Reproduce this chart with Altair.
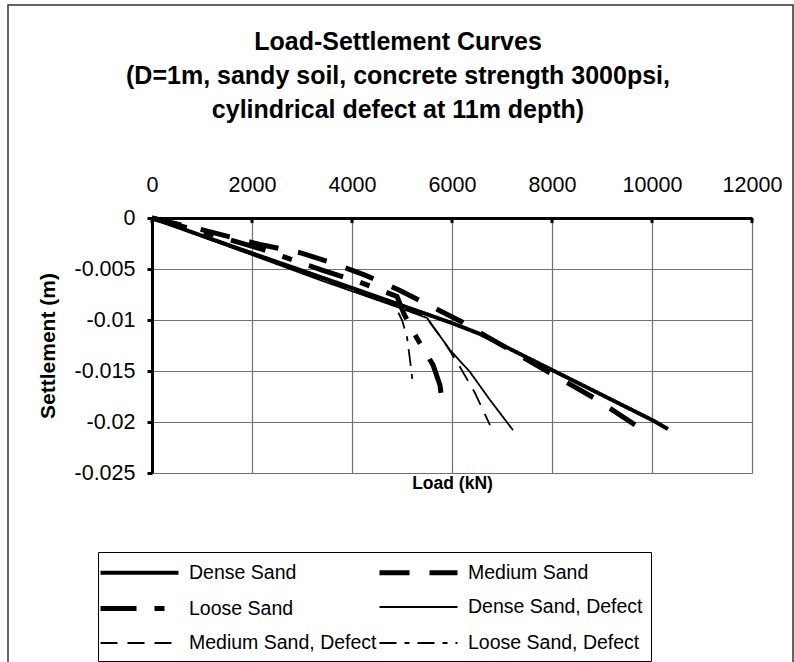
import altair as alt
import pandas as pd

FONT = "Liberation Sans"

series_names = [
    "Dense Sand", "Medium Sand", "Loose Sand",
    "Dense Sand, Defect", "Medium Sand, Defect", "Loose Sand, Defect",
]
# Legend fills column by column; this order reads row by row in two columns
legend_order = [
    "Dense Sand", "Loose Sand", "Medium Sand, Defect",
    "Medium Sand", "Dense Sand, Defect", "Loose Sand, Defect",
]

# Load (kN) and settlement (m) for each pile case
dense_load = [0, 960, 2160, 4000, 6000, 6560, 8000, 8960, 10000, 10320]
dense_settle = [0, -0.00167, -0.00373, -0.00686, -0.0103, -0.01137, -0.0149, -0.01725, -0.0198, -0.0207]

medium_load = [0, 960, 2160, 2960, 3600, 4260, 4960, 5520, 6200, 6760, 7860, 8860, 9820]
medium_settle = [0, -0.0011, -0.0026, -0.0034, -0.0044, -0.0056, -0.0071, -0.0085, -0.0102, -0.0118, -0.0149, -0.0177, -0.0208]

loose_load = [0, 960, 2160, 3400, 4160, 4900, 5040, 5300, 5620, 5760, 5820]
loose_settle = [0, -0.0013, -0.003, -0.0051, -0.0063, -0.0077, -0.0094, -0.0118, -0.0144, -0.0164, -0.0188]

dense_def_load = [0, 960, 2160, 3360, 4960, 5500, 5960, 6360, 6760, 7220]
dense_def_settle = [0, -0.00176, -0.00392, -0.00608, -0.00882, -0.0098, -0.01294, -0.0151, -0.01784, -0.0208]

medium_def_load = [0, 960, 2160, 3360, 4960, 5460, 5820, 6160, 6460, 6760]
medium_def_settle = [0, -0.00176, -0.00382, -0.00598, -0.00873, -0.00961, -0.01196, -0.01461, -0.01716, -0.0203]

loose_def_load = [0, 960, 2160, 3360, 4860, 5000, 5100, 5160, 5220]
loose_def_settle = [0, -0.00167, -0.00373, -0.00588, -0.00863, -0.0100, -0.01167, -0.01392, -0.01637]

x_ticks = [0, 2000, 4000, 6000, 8000, 10000, 12000]
y_ticks = [0, -0.005, -0.01, -0.015, -0.02, -0.025]

# Line styles per series
dash_styles = {
    "Dense Sand": [1, 0], "Medium Sand": [30, 20], "Loose Sand": [36, 18, 10, 18],
    "Dense Sand, Defect": [1, 0], "Medium Sand, Defect": [17, 10],
    "Loose Sand, Defect": [17, 8, 5, 8],
}
line_widths = {
    "Dense Sand": 4, "Medium Sand": 5, "Loose Sand": 5,
    "Dense Sand, Defect": 1.8, "Medium Sand, Defect": 1.8, "Loose Sand, Defect": 1.8,
}

columns = [
    (dense_load, dense_settle), (medium_load, medium_settle), (loose_load, loose_settle),
    (dense_def_load, dense_def_settle), (medium_def_load, medium_def_settle),
    (loose_def_load, loose_def_settle),
]
frames = []
for name, (loads, settles) in zip(series_names, columns):
    frames.append(pd.DataFrame({
        "series": name, "load": loads, "settlement": settles,
        "idx": list(range(len(loads))),
    }))
curves = pd.concat(frames, ignore_index=True)

x_scale = alt.Scale(domain=[0, 12000], nice=False)
y_scale = alt.Scale(domain=[-0.025, 0], nice=False)

legend = alt.Legend(
    title=None, orient="none", legendX=-54, legendY=334, columns=2,
    strokeColor="black", fillColor="white", padding=8,
    labelFont=FONT, labelFontSize=19.5, labelColor="black", labelOffset=37,
    symbolType="M-3.9,0H3.9", symbolSize=400, symbolStrokeColor="black",
    symbolOffset=21, rowPadding=13, columnPadding=-8, labelLimit=400,
)

lines = alt.Chart(curves).mark_line(color="black", clip=False).encode(
    x=alt.X("load:Q", scale=x_scale, axis=alt.Axis(
        orient="top", values=x_ticks, format="d", ticks=False, tickSize=0,
        labelFont=FONT, labelFontSize=21.5, labelColor="black", labelPadding=22,
        labelFlush=False, labelOverlap=False,
        domainColor="black", domainWidth=3,
        grid=True, gridColor="#707070", gridWidth=1.2,
        title="Load (kN)", titleFont=FONT, titleFontSize=17.5, titleFontWeight="bold",
        titleColor="black", titleX=300, titleY=265, titleBaseline="middle",
    )),
    y=alt.Y("settlement:Q", scale=y_scale, axis=alt.Axis(
        orient="left", values=y_ticks, labelExpr="toString(datum.value)",
        tickSize=5, tickWidth=3, tickColor="black",
        labelFont=FONT, labelFontSize=21.5, labelColor="black", labelPadding=12,
        domainColor="black", domainWidth=3,
        grid=True, gridColor="#707070", gridWidth=1.2,
        title="Settlement (m)", titleFont=FONT, titleFontSize=21, titleFontWeight="bold",
        titleColor="black", titleX=-103.5, titleY=127.5, titleBaseline="middle",
    )),
    strokeDash=alt.StrokeDash(
        "series:N", sort=legend_order,
        scale=alt.Scale(domain=legend_order, range=[dash_styles[s] for s in legend_order]),
        legend=legend),
    strokeWidth=alt.StrokeWidth(
        "series:N", sort=legend_order,
        scale=alt.Scale(type="ordinal", domain=legend_order,
                        range=[line_widths[s] for s in legend_order]),
        legend=legend),
    detail="series:N",
    order="idx:Q",
)

# Short downward tick marks on the load axis
ticks = alt.Chart(pd.DataFrame({"load": x_ticks})).mark_rule(
    color="black", strokeWidth=3
).encode(
    x=alt.X("load:Q", scale=x_scale),
    y=alt.datum(0),
    y2=alt.datum(-0.0005),
)

# Outer chart frame
frame = alt.Chart(pd.DataFrame({"k": [0]})).mark_rect(
    fillOpacity=0, stroke="#333333", strokeWidth=1.5
).encode(
    x=alt.value(-144), x2=alt.value(641), y=alt.value(-213), y2=alt.value(470),
)

chart = alt.layer(frame, lines, ticks).properties(
    width=600, height=255,
    title=alt.TitleParams(
        text=["Load-Settlement Curves",
              "(D=1m, sandy soil, concrete strength 3000psi,",
              "cylindrical defect at 11m depth)"],
        anchor="middle", frame="group", dx=-54, offset=0, dy=139,
        baseline="alphabetic",
        font=FONT, fontSize=25, fontWeight="bold", color="black", lineHeight=34,
    ),
    autosize=alt.AutoSizeParams(type="none"),
    padding={"left": 152, "top": 218, "right": 42, "bottom": 189},
).configure_view(
    stroke="#9a9a9a", strokeWidth=2.5
).configure(background="white")

chart.save("out.html", embed_options={"renderer": "svg", "actions": False})
